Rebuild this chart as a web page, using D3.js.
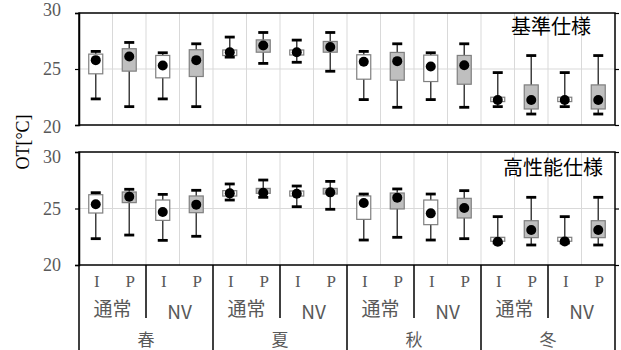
<!DOCTYPE html>
<html>
<head>
<meta charset="utf-8">
<script src="https://cdn.jsdelivr.net/npm/d3@7"></script>
<style>
    body { margin: 0; background: #fff; }
    svg { display: block; }
</style>
</head>
<body>
<svg id="chart" width="621" height="350"></svg>
<script>
// categories
const seasons = ["春", "夏", "秋", "冬"];
const modes = ["通常", "NV"];
const types = ["I", "P"];
const yTicks = [20, 25, 30];

// 基準仕様 (top)
const baseHigh = [26.57, 27.37, 26.45, 27.25, 27.85, 28.26, 27.58, 28.26, 26.57, 27.25, 26.45, 27.25, 24.68, 26.2, 24.68, 26.2];
const baseQ3 = [26.33, 26.81, 26.21, 26.72, 26.7, 27.6, 26.7, 27.46, 26.27, 26.48, 26.24, 26.21, 22.48, 23.58, 22.48, 23.58];
const baseQ1 = [24.57, 24.81, 24.21, 24.33, 26.2, 26.5, 26.25, 26.5, 24.09, 24.0, 23.88, 23.64, 22.09, 21.43, 22.09, 21.43];
const baseLow = [22.33, 21.64, 22.33, 21.64, 26.06, 25.5, 25.6, 24.8, 22.27, 21.58, 22.27, 21.58, 21.64, 20.98, 21.64, 20.98];
const baseMean = [25.79, 26.12, 25.31, 25.79, 26.5, 27.1, 26.5, 26.96, 25.64, 25.7, 25.22, 25.34, 22.24, 22.24, 22.24, 22.24];

// 高性能仕様 (bottom)
const highHigh = [26.4, 26.7, 26.25, 26.61, 27.17, 27.52, 26.99, 27.4, 26.28, 26.73, 26.28, 26.58, 24.28, 25.99, 24.28, 25.99];
const highQ3 = [26.22, 26.46, 25.75, 26.11, 26.58, 26.78, 26.55, 26.78, 26.11, 26.37, 25.75, 25.9, 22.45, 23.92, 22.45, 23.92];
const highQ1 = [24.6, 25.52, 23.95, 24.63, 26.1, 26.34, 26.1, 26.28, 24.04, 24.96, 23.57, 24.16, 22.1, 22.42, 22.1, 22.42];
const highLow = [22.33, 22.65, 22.18, 22.54, 25.75, 25.99, 25.16, 24.93, 22.21, 22.45, 22.21, 22.33, 21.95, 21.77, 21.95, 21.77];
const highMean = [25.37, 26.05, 24.69, 25.34, 26.34, 26.4, 26.3, 26.43, 25.49, 25.96, 24.57, 25.04, 22.06, 23.1, 22.09, 23.1];

const svg = d3.select("#chart");
const left = 79, right = 615;
const nCols = seasons.length * modes.length * types.length;

const x = d3.scaleBand()
    .domain(d3.range(nCols))
    .range([left, right])
    .padding(0);

const serif = "'Liberation Serif', 'DejaVu Serif', serif";
const cjk = "'Noto Sans CJK JP', 'Noto Sans', sans-serif";
const grey = "#595959";

function drawPanel(top, bottom, title, titleX, titleY, hi, q3, q1, lo, mean, labelShift) {
    const y = d3.scaleLinear().domain([20, 30]).range([bottom, top]);
    const g = svg.append("g");

    // grid lines
    g.selectAll(".vgrid")
        .data(d3.range(1, nCols))
        .enter().append("line")
        .attr("x1", d => x(d)).attr("x2", d => x(d))
        .attr("y1", top).attr("y2", bottom)
        .attr("stroke", "#d9d9d9").attr("stroke-width", 1);

    g.append("line")
        .attr("x1", left).attr("x2", right)
        .attr("y1", y(25)).attr("y2", y(25))
        .attr("stroke", "#d9d9d9").attr("stroke-width", 1);

    // frame
    g.append("rect")
        .attr("x", left).attr("y", top)
        .attr("width", right - left).attr("height", bottom - top)
        .attr("fill", "none").attr("stroke", "#000").attr("stroke-width", 1.5);

    // left axis
    const axL = g.append("g")
        .attr("transform", `translate(${left},0)`)
        .attr("font-family", serif)
        .call(d3.axisLeft(y).tickValues(yTicks).tickSize(4).tickPadding(14));
    axL.attr("font-family", serif);
    axL.select(".domain").attr("stroke", "#000").attr("stroke-width", 1.5);
    axL.selectAll(".tick line").attr("stroke", "#000").attr("stroke-width", 1.2);
    axL.selectAll(".tick text")
        .attr("fill", grey)
        .style("font-family", serif)
        .style("font-size", "18px")
        .attr("dy", (d, i) => (0.32 * 18 + labelShift[i]) + "px");

    // right axis ticks
    const axR = g.append("g")
        .attr("transform", `translate(${right},0)`)
        .call(d3.axisRight(y).tickValues(yTicks).tickSize(4).tickFormat(""));
    axR.select(".domain").remove();
    axR.selectAll(".tick line").attr("stroke", "#000").attr("stroke-width", 1.2);

    const cols = d3.range(nCols).map(i => ({
        i: i, hi: hi[i], q3: q3[i], q1: q1[i], lo: lo[i], mean: mean[i],
        type: types[i % 2]
    }));

    const cx = d => x(d.i) + x.bandwidth() / 2;
    const boxW = 14, capW = 10;

    const box = g.selectAll(".box")
        .data(cols)
        .enter().append("g")
        .attr("class", "box");

    // whisker line
    box.append("line")
        .attr("x1", cx).attr("x2", cx)
        .attr("y1", d => y(d.hi)).attr("y2", d => y(d.lo))
        .attr("stroke", "#404040").attr("stroke-width", 1.5);

    // box body
    box.append("rect")
        .attr("x", d => cx(d) - boxW / 2)
        .attr("y", d => y(d.q3))
        .attr("width", boxW)
        .attr("height", d => Math.max(1, y(d.q1) - y(d.q3)))
        .attr("fill", d => d.type === "P" ? "#bfbfbf" : "#fff")
        .attr("stroke", "#7f7f7f").attr("stroke-width", 1.2);

    // caps
    box.selectAll(".cap")
        .data(d => [{ x: cx(d), v: d.hi }, { x: cx(d), v: d.lo }])
        .enter().append("line")
        .attr("x1", d => d.x - capW / 2).attr("x2", d => d.x + capW / 2)
        .attr("y1", d => y(d.v)).attr("y2", d => y(d.v))
        .attr("stroke", "#000").attr("stroke-width", 2.8);

    // mean
    box.append("circle")
        .attr("cx", cx)
        .attr("cy", d => y(d.mean))
        .attr("r", 5)
        .attr("fill", "#000");

    // panel title
    g.append("text")
        .attr("x", titleX).attr("y", titleY)
        .attr("text-anchor", "end")
        .style("font-family", cjk)
        .style("font-size", "20px")
        .attr("fill", "#000")
        .text(title);
}

drawPanel(13, 125, "基準仕様", 591, 34, baseHigh, baseQ3, baseQ1, baseLow, baseMean, [2, 0, -3]);
drawPanel(152, 265, "高性能仕様", 603, 175, highHigh, highQ3, highQ1, highLow, highMean, [0, 0, 5]);

// y axis label
svg.append("text")
    .attr("transform", "translate(29,142) rotate(-90)")
    .attr("text-anchor", "middle")
    .style("font-family", serif)
    .style("font-size", "18px")
    .attr("fill", "#000")
    .text("OT[°C]");

// category axis
const axisTop = 265;
const cat = svg.append("g");
const pairW = x.bandwidth() * 2;
const seasonW = x.bandwidth() * 4;

cat.selectAll(".typeLabel")
    .data(d3.range(nCols))
    .enter().append("text")
    .attr("x", d => x(d) + x.bandwidth() / 2 + 1)
    .attr("y", 287)
    .attr("text-anchor", "middle")
    .style("font-family", serif)
    .style("font-size", "17px")
    .attr("fill", grey)
    .text(d => types[d % 2]);

cat.selectAll(".modeLabel")
    .data(d3.range(nCols / 2))
    .enter().append("text")
    .attr("x", d => left + pairW * d + pairW / 2)
    .attr("y", d => d % 2 === 0 ? 316 : 319)
    .attr("text-anchor", "middle")
    .style("font-family", cjk)
    .style("font-size", "19px")
    .attr("fill", grey)
    .text(d => modes[d % 2]);

cat.selectAll(".seasonLabel")
    .data(seasons)
    .enter().append("text")
    .attr("x", (d, i) => left + seasonW * i + seasonW / 2)
    .attr("y", 346)
    .attr("text-anchor", "middle")
    .style("font-family", cjk)
    .style("font-size", "17px")
    .attr("fill", grey)
    .text(d => d);

// separators
cat.selectAll(".pairSep")
    .data(d3.range(seasons.length))
    .enter().append("line")
    .attr("x1", d => left + seasonW * d + pairW)
    .attr("x2", d => left + seasonW * d + pairW)
    .attr("y1", axisTop).attr("y2", 318)
    .attr("stroke", "#000").attr("stroke-width", 1.5);

cat.selectAll(".seasonSep")
    .data(d3.range(seasons.length + 1))
    .enter().append("line")
    .attr("x1", d => left + seasonW * d)
    .attr("x2", d => left + seasonW * d)
    .attr("y1", axisTop).attr("y2", 350)
    .attr("stroke", "#000").attr("stroke-width", 1.5);
</script>
</body>
</html>
